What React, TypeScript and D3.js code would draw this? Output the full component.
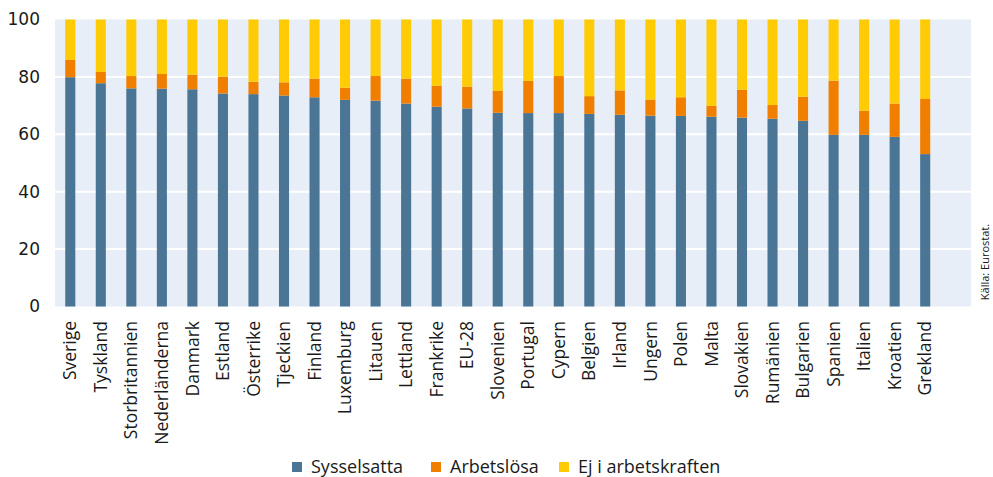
import React from "react";
import * as d3 from "d3";

const categories = ["Sverige","Tyskland","Storbritannien","Nederländerna","Danmark","Estland","Österrike","Tjeckien","Finland","Luxemburg","Litauen","Lettland","Frankrike","EU-28","Slovenien","Portugal","Cypern","Belgien","Irland","Ungern","Polen","Malta","Slovakien","Rumänien","Bulgarien","Spanien","Italien","Kroatien","Grekland"];
const sysselsatta = [79.9,77.8,76.0,75.9,75.7,74.2,74.0,73.5,72.9,72.0,71.7,70.7,69.6,69.0,67.5,67.4,67.4,67.1,66.8,66.5,66.4,66.1,65.8,65.4,64.7,59.8,59.8,59.1,53.1];
const arbetslosa = [6.0,3.9,4.3,5.1,5.1,5.9,4.3,4.6,6.5,4.2,8.6,8.7,7.3,7.6,7.6,11.2,12.9,6.2,8.5,5.6,6.5,3.8,9.7,4.8,8.4,18.9,8.4,11.6,19.2];
const ejArbetskraften = categories.map((_, i) => +(100 - sysselsatta[i] - arbetslosa[i]).toFixed(1));
const yTicks = [0, 20, 40, 60, 80, 100];
const seriesNames = ["Sysselsatta", "Arbetslösa", "Ej i arbetskraften"];
const colors = ["#4A7595", "#F07F00", "#FFCB05"];

export default function App() {
  const W = 993, H = 477;
  const left = 55, right = 971, top = 19.5, bottom = 306.5;
  const slots = [...categories, ""];
  const x = d3.scaleBand<number>().domain(d3.range(slots.length)).range([left, right]).paddingInner(0.67).paddingOuter(0.335);
  const y = d3.scaleLinear().domain([0, 100]).range([bottom, top]);
  const rows = categories.map((c, i) => ({ c, s0: sysselsatta[i], s1: arbetslosa[i], s2: ejArbetskraften[i] }));
  const stack = d3.stack<any>().keys(["s0", "s1", "s2"])(rows);
  const font = "'Open Sans', sans-serif";
  const legendX = [292, 431, 559];
  return (
    <svg width={W} height={H} style={{ position: "absolute", left: 0, top: 0 }}>
      <rect x={left} y={top} width={right - left} height={bottom - top} fill="#E8EEF8" />
      {yTicks.map(t => (
        <g key={t}>
          {t > 0 && t < 100 && <line x1={left} x2={right} y1={y(t)} y2={y(t)} stroke="#fff" strokeWidth={2} />}
          <text x={40} y={y(t)} dy="0.35em" textAnchor="end" fontFamily="'DejaVu Sans', sans-serif" fontSize={17} fill="#1a1a1a">{t}</text>
        </g>
      ))}
      {stack.map((layer, k) => (
        <g key={k} fill={colors[k]}>
          {layer.map((d, i) => (
            <rect key={i} x={x(i)} width={x.bandwidth()} y={y(d[1])} height={y(d[0]) - y(d[1])} />
          ))}
        </g>
      ))}
      {categories.map((c, i) => (
        <text key={c} transform={`translate(${x(i)! + x.bandwidth() / 2},321) rotate(-90)`} dy="0.35em" textAnchor="end" fontFamily={font} fontSize={17.5} fill="#1a1a1a">{c}</text>
      ))}
      {seriesNames.map((n, k) => (
        <g key={n}>
          <rect x={legendX[k]} y={462} width={10} height={10} fill={colors[k]} />
          <text x={legendX[k] + 19} y={467} dy="0.35em" fontFamily={font} fontSize={18} fill="#1a1a1a">{n}</text>
        </g>
      ))}
      <text transform="translate(985,262) rotate(-90)" dy="0.35em" textAnchor="middle" fontFamily={font} fontSize={11} fill="#1a1a1a">Källa: Eurostat.</text>
    </svg>
  );
}
